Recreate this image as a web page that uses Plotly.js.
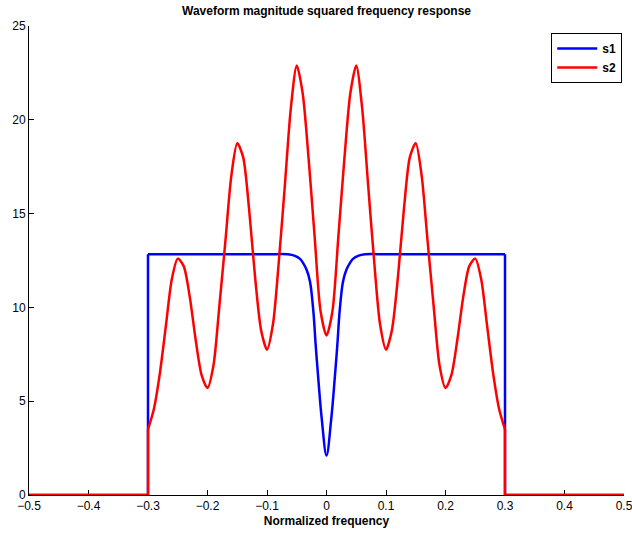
<!DOCTYPE html>
<html>
<head>
<meta charset="utf-8">
<script src="https://cdn.plot.ly/plotly-3.0.1.min.js"></script>
<style>html,body{margin:0;padding:0;background:#fff;}#chart{width:632px;height:535px;}</style>
</head>
<body>
<div id="chart"></div>
<script>
// s1 (blue): rectangular edges and the smooth inner part with the notch at 0
var s1EdgeLeftX = [-0.5, -0.3, -0.3];
var s1EdgeLeftY = [0, 0, 12.83];
var s1EdgeRightX = [0.3, 0.3, 0.5];
var s1EdgeRightY = [12.83, 0, 0];
var s1X = [-0.3, -0.2, -0.1, -0.065, -0.053, -0.045, -0.04, -0.0333, -0.0277, -0.0221, -0.0182, -0.0138, -0.0081, 0,
           0.0081, 0.0138, 0.0182, 0.0221, 0.0277, 0.0333, 0.04, 0.045, 0.053, 0.065, 0.1, 0.2, 0.3];
var s1Y = [12.83, 12.83, 12.83, 12.83, 12.75, 12.6, 12.4, 11.99, 11.37, 9.8, 8.0, 6.2, 4.1, 2.1,
           4.1, 6.2, 8.0, 9.8, 11.37, 11.99, 12.4, 12.6, 12.75, 12.83, 12.83, 12.83, 12.83];

// s2 (red): edges and inner curve read at steps of 0.01
var s2EdgeLeftX = [-0.5, -0.3, -0.3];
var s2EdgeLeftY = [0, 0, 3.5];
var s2EdgeRightX = [0.3, 0.3, 0.5];
var s2EdgeRightY = [3.5, 0, 0];
var s2X = [-0.30, -0.29, -0.28, -0.27, -0.26, -0.25, -0.24, -0.23, -0.22, -0.21,
           -0.20, -0.19, -0.18, -0.17, -0.16, -0.15, -0.14, -0.13, -0.12, -0.11,
           -0.10, -0.09, -0.08, -0.07, -0.06, -0.05, -0.04, -0.03, -0.02, -0.01,
            0.00,  0.01,  0.02,  0.03,  0.04,  0.05,  0.06,  0.07,  0.08,  0.09,
            0.10,  0.11,  0.12,  0.13,  0.14,  0.15,  0.16,  0.17,  0.18,  0.19,
            0.20,  0.21,  0.22,  0.23,  0.24,  0.25,  0.26,  0.27,  0.28,  0.29, 0.30];
var s2Y = [3.5, 4.6, 6.5, 9.0, 11.5, 12.6, 12.2, 10.6, 8.3, 6.4,
           5.7, 6.9, 10.1, 13.5, 17.0, 18.75, 18.0, 15.2, 11.6, 8.8,
           7.75, 9.1, 12.5, 16.5, 20.6, 22.9, 21.4, 17.9, 13.8, 9.8,
           8.5, 9.8, 13.8, 17.9, 21.4, 22.9, 20.6, 16.5, 12.5, 9.1,
           7.75, 8.8, 11.6, 15.2, 18.0, 18.75, 17.0, 13.5, 10.1, 6.9,
           5.7, 6.4, 8.3, 10.6, 12.2, 12.6, 11.5, 9.0, 6.5, 4.6, 3.5];

var xTicks = [-0.5, -0.4, -0.3, -0.2, -0.1, 0, 0.1, 0.2, 0.3, 0.4, 0.5];
var yTicks = [0, 5, 10, 15, 20, 25];

var BLUE = '#0000ff', RED = '#ff0000', LW = 2.5;
var FONT = 'Liberation Sans, Arial, Helvetica, sans-serif';

var traces = [
  {x: s1X, y: s1Y, mode: 'lines', name: '<b>s1</b>', line: {color: BLUE, width: LW, shape: 'spline', smoothing: 1}},
  {x: s1EdgeLeftX, y: s1EdgeLeftY, mode: 'lines', showlegend: false, line: {color: BLUE, width: LW}},
  {x: s1EdgeRightX, y: s1EdgeRightY, mode: 'lines', showlegend: false, line: {color: BLUE, width: LW}},
  {x: s2X, y: s2Y, mode: 'lines', name: '<b>s2</b>', line: {color: RED, width: LW, shape: 'spline', smoothing: 0.75}},
  {x: s2EdgeLeftX, y: s2EdgeLeftY, mode: 'lines', showlegend: false, line: {color: RED, width: LW}},
  {x: s2EdgeRightX, y: s2EdgeRightY, mode: 'lines', showlegend: false, line: {color: RED, width: LW}}
];

var layout = {
  width: 632, height: 535,
  margin: {l: 29, r: 8, t: 26, b: 40, pad: 0},
  paper_bgcolor: '#fff', plot_bgcolor: '#fff',
  font: {family: FONT, size: 12, color: '#000'},
  title: {text: 'Waveform magnitude squared frequency response', font: {family: FONT, size: 12, weight: 'bold', color: '#000'},
          x: 0.5, xref: 'paper', y: 0.979, yref: 'container', yanchor: 'middle'},
  xaxis: {range: [-0.5, 0.5], tickvals: xTicks, ticks: 'inside', ticklen: 5, tickwidth: 1, tickcolor: '#000',
          showline: true, linecolor: '#000', linewidth: 1, showgrid: false, zeroline: false, layer: 'below traces',
          ticklabeloverflow: 'allow',
          tickfont: {family: FONT, size: 12, color: '#000'},
          title: {text: 'Normalized frequency', font: {family: FONT, size: 12, weight: 'bold', color: '#000'}, standoff: 4}},
  yaxis: {range: [0, 25], tickvals: yTicks, ticks: 'inside', ticklen: 5, tickwidth: 1, tickcolor: '#000',
          showline: true, linecolor: '#000', linewidth: 1, showgrid: false, zeroline: false, layer: 'below traces',
          tickfont: {family: FONT, size: 12, color: '#000'}},
  legend: {x: 0.997, y: 0.985, xanchor: 'right', yanchor: 'top', bgcolor: '#fff', bordercolor: '#000', borderwidth: 1,
           font: {family: FONT, size: 12, color: '#000'}, tracegroupgap: 0, itemwidth: 40},
  showlegend: true
};

Plotly.newPlot('chart', traces, layout, {displayModeBar: false, staticPlot: true});
</script>
</body>
</html>
